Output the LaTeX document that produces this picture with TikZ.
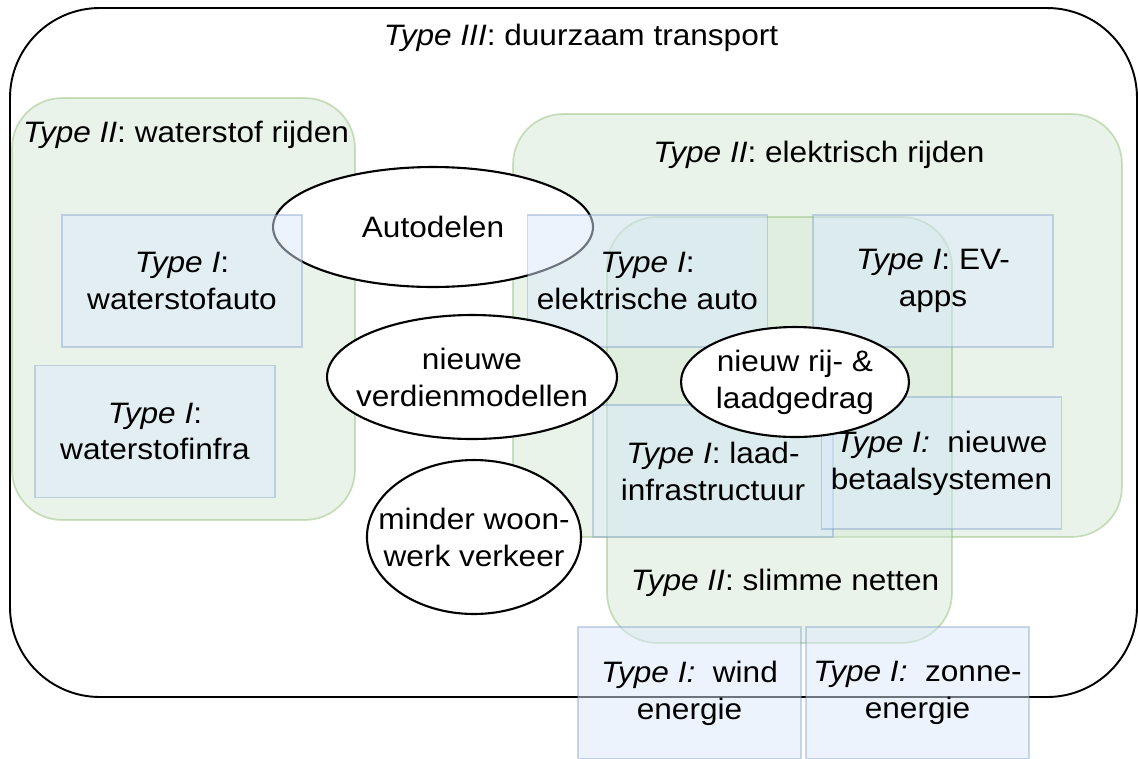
\documentclass[tikz,border=0pt]{standalone}
\usepackage{fontspec}
\setmainfont{Liberation Sans}[FakeStretch=1.07]
\usetikzlibrary{shapes.geometric}

\definecolor{grnfill}{HTML}{D5E8D4}
\definecolor{grnline}{HTML}{82B366}
\definecolor{blufill}{HTML}{DAE8FC}
\definecolor{bluline}{HTML}{6C8EBF}

\def\outerbox{(10,8) rectangle (1137,697)}

\tikzset{
    lbl/.style={font=\fontsize{16.8}{21}\selectfont, align=center, inner sep=0pt},
    grnbox/.style={rectangle, rounded corners=1cm, draw=grnline, draw opacity=0.4,
        fill=grnfill, fill opacity=0.5, line width=1pt},
    blubox/.style={lbl, rectangle, draw=bluline, draw opacity=0.35, fill=blufill,
        fill opacity=0.5, text opacity=1, line width=1pt,
        minimum width=4.8cm, minimum height=2.64cm},
    bubble/.style={lbl, ellipse, draw=black, fill=white, line width=1.2pt,
        inner xsep=-0.4cm, inner ysep=-0.3cm},
}

\begin{document}
\begin{tikzpicture}[x=0.02cm, y=-0.02cm]
    \useasboundingbox (0,0) rectangle (1138,758);
    % Type III
    \draw[line width=1.1pt, rounded corners=1.8cm] \outerbox;
    \node[lbl, anchor=base] (transport) at (581,45) {\textit{Type III}: duurzaam transport};

    % Type II
    \node[grnbox, minimum width=6.86cm, minimum height=8.44cm] (waterstof) at (183.5,309) {};
    \node[grnbox, minimum width=12.18cm, minimum height=8.46cm] (elektrisch) at (817.5,325.5) {};
    \node[grnbox, minimum width=6.9cm, minimum height=8.52cm] (netten) at (779.5,430) {};
    \node[lbl, anchor=base] (waterstoflbl) at (186,142) {\textit{Type II}: waterstof rijden};
    \node[lbl, anchor=base] (elektrischlbl) at (819,162) {\textit{Type II}: elektrisch rijden};
    \node[lbl, anchor=base] (nettenlbl) at (785,590) {\textit{Type II}: slimme netten};

    \node[bubble, minimum width=6.4cm, minimum height=2.4cm] (autodelen) at (433,227) {Autodelen};

    % Type I
    \node[blubox] (wsauto) at (182,281) {\textit{Type I}:\\waterstofauto};
    \node[blubox] (wsinfra) at (155,431.5) {\textit{Type I}:\\waterstofinfra};
    \node[blubox] (elauto) at (647.5,281) {\textit{Type I}:\\elektrische auto};
    \node[blubox] (evapps) at (933,281) {\textit{Type I}: EV-\\apps};
    \node[blubox] (laad) at (713,471) {\textit{Type I}: laad-\\infrastructuur};
    \node[blubox] (betaal) at (941.5,463) {\textit{Type I:}\ \ nieuwe\\betaalsystemen};
    \node[blubox, minimum width=4.46cm] (wind) at (689.5,693) {\textit{Type I:}\ \ wind\\energie};
    \node[blubox, minimum width=4.46cm] (zon) at (917.5,693) {\textit{Type I:}\ \ zonne-\\energie};

    \node[bubble, minimum width=5.8cm, minimum height=2.48cm] (verdien) at (472,377) {nieuwe\\verdienmodellen};
    \node[bubble, minimum width=4.28cm, minimum height=3.08cm] (woonwerk) at (474,537) {minder woon-\\werk verkeer};
    \node[bubble, minimum width=4.56cm, minimum height=2.2cm] (gedrag) at (795,382) {nieuw rij- \&\\laadgedrag};
\end{tikzpicture}
\end{document}
